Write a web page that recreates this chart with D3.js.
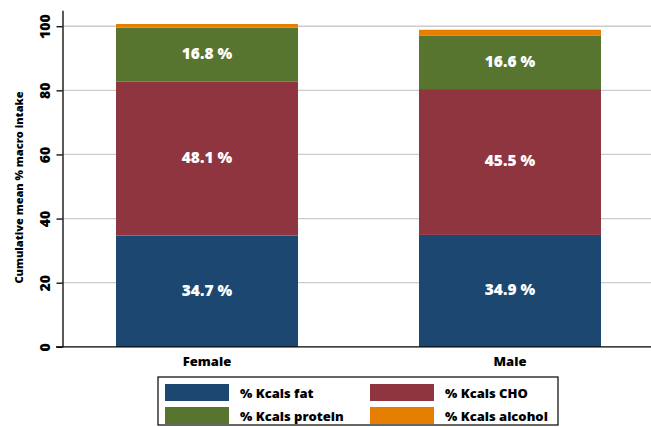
<!DOCTYPE html>
<html><head><meta charset="utf-8">
<script src="https://cdn.jsdelivr.net/npm/d3@7"></script>
<style>body{margin:0;background:#fff}svg{display:block}text{font-family:"Open Sans","DejaVu Sans",sans-serif;font-weight:800}</style>
</head><body><svg id="c" width="651" height="427"></svg>
<script>
const categories = ["Female","Male"];
const seriesNames = ["% Kcals fat","% Kcals CHO","% Kcals protein","% Kcals alcohol"];
const fat = [34.7, 34.9];
const cho = [48.1, 45.5];
const protein = [16.8, 16.6];
const alcohol = [1.1, 1.9];
const yTicks = [0,20,40,60,80,100];
const colors = ["#1b4770","#8f353f","#587530","#e67e00"];

const series = [fat, cho, protein, alcohol];
const rows = categories.map((c,i)=>{const r={cat:c}; seriesNames.forEach((s,j)=>r[s]=series[j][i]); return r;});
const stacked = d3.stack().keys(seriesNames)(rows);

const svg = d3.select("#c");
const x0 = 62.5, x1 = 654.5, yb = 346.8, yt = 10.2;
const x = d3.scaleBand().domain(categories).range([x0,x1]).paddingInner(0.3993).paddingOuter(0.1766);
const y = d3.scaleLinear().domain([0,105]).range([yb,yt]);

// gridlines
svg.append("g").selectAll("line").data(yTicks.filter(t=>t>0)).join("line")
  .attr("x1",x0).attr("x2",651).attr("y1",d=>y(d)).attr("y2",d=>y(d))
  .attr("stroke","#cccccc").attr("stroke-width",1.3);

// bars
const g = svg.append("g");
stacked.forEach((s,j)=>{
  g.selectAll(null).data(s).join("rect")
    .attr("x",d=>x(d.data.cat)).attr("width",x.bandwidth())
    .attr("y",d=>y(d[1])).attr("height",d=>y(d[0])-y(d[1]))
    .attr("fill",colors[j]);
  if(j<3){
    g.selectAll(null).data(s).join("text")
      .attr("x",d=>x(d.data.cat)+x.bandwidth()/2)
      .attr("y",d=>y((d[0]+d[1])/2)-1.5)
      .attr("text-anchor","middle").attr("dominant-baseline","central")
      .attr("fill","#fff").attr("font-size",15.5)
      .text(d=>d3.format(".1f")(d[1]-d[0])+" %");
  }
});

// y axis
const ya = svg.append("g").attr("transform",`translate(${x0},0)`)
  .call(d3.axisLeft(y).tickValues(yTicks).tickSize(6).tickSizeOuter(0).tickFormat(d3.format("d")));
ya.select(".domain").attr("stroke","#000").attr("stroke-width",1.3);
ya.selectAll(".tick line").attr("stroke","#000").attr("stroke-width",1.3);
ya.selectAll(".tick text").attr("font-size",14).attr("fill","#000")
  .attr("transform","rotate(-90)").attr("x",0).attr("y",-13)
  .attr("dy","0").attr("text-anchor","middle").attr("dominant-baseline","auto");

// x axis line
svg.append("line").attr("x1",56).attr("x2",651).attr("y1",yb).attr("y2",yb).attr("stroke","#000").attr("stroke-width",1.3);

// x labels
const xa = svg.append("g").attr("transform",`translate(0,${yb})`)
  .call(d3.axisBottom(x).tickSize(0));
xa.select(".domain").remove();
xa.selectAll(".tick text").attr("font-size",13).attr("fill","#000").attr("dy",0).attr("y",14.5).attr("dominant-baseline","central");

// y title
svg.append("text").attr("transform",`translate(23,${(yb+y(100))/2+1}) rotate(-90)`)
  .attr("text-anchor","middle").attr("font-size",11).attr("fill","#000")
  .text("Cumulative mean % macro intake");

// legend
svg.append("rect").attr("x",158).attr("y",377).attr("width",400).attr("height",48)
  .attr("fill","none").attr("stroke","#000").attr("stroke-width",1.2);
const lg = svg.append("g");
seriesNames.forEach((n,i)=>{
  const col = i%2, row = Math.floor(i/2);
  const lx = col===0?165:370, ly = row===0?384:407;
  lg.append("rect").attr("x",lx).attr("y",ly).attr("width",64).attr("height",17).attr("fill",colors[i]);
  lg.append("text").attr("x",lx+75).attr("y",ly+8.5).attr("dominant-baseline","central")
    .attr("font-size",13).attr("fill","#000").text(n);
});
</script></body></html>
